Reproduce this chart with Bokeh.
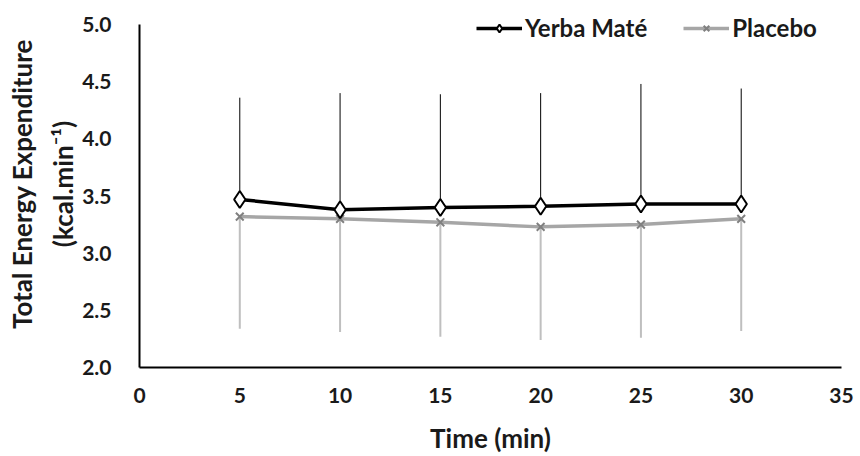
from bokeh.plotting import figure
from bokeh.models import Range1d, Legend, LegendItem, ColumnDataSource, CustomJSTickFormatter
from bokeh.embed import file_html
from bokeh.resources import INLINE

time = [5, 10, 15, 20, 25, 30]
yerba_mean = [3.47, 3.38, 3.40, 3.41, 3.43, 3.43]
yerba_sd = [0.89, 1.02, 0.99, 0.99, 1.05, 1.01]
placebo_mean = [3.32, 3.30, 3.27, 3.23, 3.25, 3.30]
placebo_sd = [0.98, 0.99, 1.00, 0.99, 0.99, 0.98]

y_ticks = [2.0, 2.5, 3.0, 3.5, 4.0, 4.5, 5.0]
x_ticks = [0, 5, 10, 15, 20, 25, 30, 35]

FONT = "Lato"
TXT = "#1a1a1a"

yerba_up = [m + s for m, s in zip(yerba_mean, yerba_sd)]
placebo_lo = [m - s for m, s in zip(placebo_mean, placebo_sd)]

src = ColumnDataSource(dict(t=time, ym=yerba_mean, yu=yerba_up,
                            pm=placebo_mean, pl=placebo_lo))

# y-range extends a little above 5.0 so the legend has room; the axis line is bounded to 2-5
p = figure(width=860, height=456, output_backend="svg", toolbar_location=None,
           x_range=Range1d(0, 35), y_range=Range1d(2.0, 5.21),
           min_border_left=139, min_border_right=19, min_border_top=0,
           min_border_bottom=89)
p.outline_line_color = None
p.xgrid.grid_line_color = None
p.ygrid.grid_line_color = None

# error bars
p.segment("t", "ym", "t", "yu", source=src, line_color="#000000", line_width=1)
p.segment("t", "pm", "t", "pl", source=src, line_color="#bfbfbf", line_width=2)

pl_line = p.line("t", "pm", source=src, line_color="#a6a6a6", line_width=3.5)
pl_mark = p.scatter("t", "pm", source=src, marker="x", size=11,
                    line_color="#808080", line_width=2)
ym_line = p.line("t", "ym", source=src, line_color="#000000", line_width=3.5)
ym_mark = p.scatter("t", "ym", source=src, marker="diamond", size=17,
                    fill_color="white", line_color="#000000", line_width=2)

legend = Legend(items=[LegendItem(label="Yerba Maté", renderers=[ym_line, ym_mark]),
                       LegendItem(label="Placebo", renderers=[pl_line, pl_mark])],
                location=(337, 325), orientation="horizontal")
legend.background_fill_alpha = 0
legend.border_line_color = None
legend.label_text_font = FONT
legend.label_text_font_style = "bold"
legend.label_text_font_size = "24px"
legend.label_text_color = TXT
legend.glyph_width = 46
legend.spacing = 36
legend.padding = 0
legend.margin = 0
legend.label_standoff = 3
p.add_layout(legend)

for ax in (p.xaxis, p.yaxis):
    ax.axis_line_color = "#000000"
    ax.axis_line_width = 2
    ax.major_tick_line_color = None
    ax.minor_tick_line_color = None
    ax.major_label_text_font = FONT
    ax.major_label_text_font_style = "bold"
    ax.major_label_text_font_size = "21px"
    ax.major_label_text_color = TXT
    ax.axis_label_text_font = FONT
    ax.axis_label_text_font_style = "bold"
    ax.axis_label_text_font_size = "26px"
    ax.axis_label_text_color = TXT

p.yaxis.bounds = (2.0, 5.0)
p.xaxis.ticker = x_ticks
p.yaxis.ticker = y_ticks
p.yaxis.formatter = CustomJSTickFormatter(code="return tick.toFixed(1);")
p.xaxis.major_label_standoff = 14
p.yaxis.major_label_standoff = 22
p.xaxis.axis_label = "Time (min)"
p.xaxis.axis_label_standoff = 16
p.yaxis.axis_label = "Total Energy Expenditure\n(kcal.min\u207b\u00b9)"
p.yaxis.axis_label_text_line_height = 1.3
p.yaxis.axis_label_standoff = 0

open("out.html", "w").write(file_html(p, INLINE))
